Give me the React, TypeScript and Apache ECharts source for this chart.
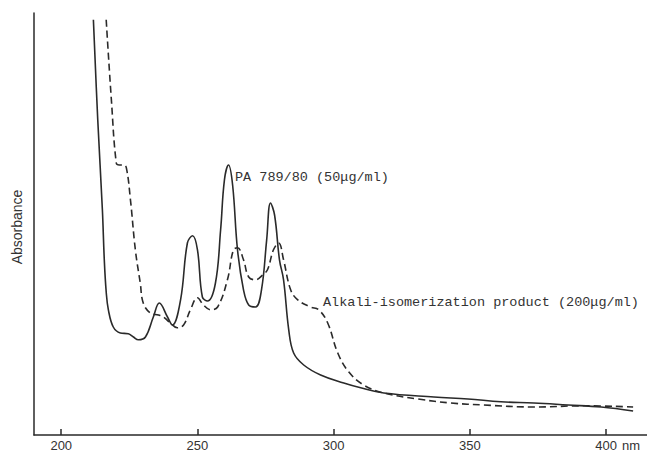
import React, { useEffect, useRef } from "react";
import * as echarts from "echarts";

const xTicks = [200, 250, 300, 350, 400];

const solidNm = [211.8, 213.4, 215.1, 215.8, 216.5, 217.3, 219.1, 221.7, 224.6, 226.5, 228.3, 230.9, 233.8, 236.0, 239.0, 240.8, 243.8, 246.3, 248.2, 250.0, 251.8, 253.7, 256.6, 258.5, 259.9, 261.4, 262.9, 264.7, 266.9, 268.8, 271.3, 273.5, 275.4, 276.8, 278.3, 280.1, 281.6, 283.5, 285.3, 289.0, 295.2, 303.7, 309.9, 318.4, 336.8, 349.3, 361.4, 373.5, 386.0, 398.2, 409.9];
const solidAbs = [1.038, 0.788, 0.563, 0.438, 0.358, 0.313, 0.27, 0.255, 0.253, 0.245, 0.238, 0.245, 0.295, 0.33, 0.295, 0.275, 0.338, 0.48, 0.498, 0.463, 0.345, 0.335, 0.38, 0.513, 0.638, 0.675, 0.625, 0.463, 0.363, 0.325, 0.32, 0.363, 0.488, 0.58, 0.55, 0.438, 0.388, 0.263, 0.205, 0.175, 0.15, 0.13, 0.118, 0.105, 0.095, 0.09, 0.083, 0.08, 0.075, 0.07, 0.06];

const dashNm = [216.5, 218.4, 220.2, 221.3, 222.8, 223.9, 225.4, 227.2, 229.0, 230.1, 232.7, 235.7, 237.5, 240.1, 242.6, 244.9, 247.4, 250.0, 252.2, 254.8, 257.4, 261.0, 263.2, 264.7, 266.9, 268.8, 271.3, 273.9, 275.7, 277.9, 279.8, 281.6, 284.2, 286.8, 291.5, 294.5, 297.8, 301.5, 305.5, 311.0, 318.4, 330.9, 343.0, 355.1, 373.5, 391.9, 409.9];
const dashAbs = [1.038, 0.838, 0.68, 0.675, 0.675, 0.668, 0.588, 0.463, 0.38, 0.33, 0.305, 0.3, 0.295, 0.28, 0.268, 0.275, 0.313, 0.343, 0.325, 0.313, 0.32, 0.388, 0.463, 0.468, 0.438, 0.395, 0.388, 0.4, 0.413, 0.463, 0.48, 0.438, 0.363, 0.338, 0.32, 0.313, 0.28, 0.205, 0.158, 0.125, 0.105, 0.09, 0.08, 0.075, 0.07, 0.073, 0.07];

const solidLabel = "PA 789/80 (50\u03bcg/ml)";
const dashLabel = "Alkali-isomerization product (200\u03bcg/ml)";
const yTitle = "Absorbance";
const unitLabel = "nm";

export default function App() {
  const ref = useRef<HTMLDivElement>(null);
  useEffect(() => {
    if (!ref.current) return;
    const chart = echarts.init(ref.current, undefined, { renderer: "svg" });
    const ink = "#2a2a2a";
    const mono = "'Liberation Mono', 'DejaVu Sans Mono', monospace";
    const sans = "'Liberation Sans', Arial, sans-serif";
    chart.setOption({
      animation: false,
      backgroundColor: "#ffffff",
      grid: { left: 34, top: 13, right: 0, bottom: 18, containLabel: false },
      xAxis: {
        type: "value",
        min: 190,
        max: 415,
        axisLine: { show: true, onZero: false, lineStyle: { color: ink, width: 1.5 } },
        axisTick: { show: true, inside: true, length: 6, customValues: xTicks, lineStyle: { color: ink, width: 1.5 } },
        axisLabel: {
          color: "#333",
          fontSize: 13,
          fontFamily: sans,
          margin: 4,
          customValues: xTicks,
        },
        splitLine: { show: false },
      },
      yAxis: {
        type: "value",
        min: 0,
        max: 1.055,
        axisLine: { show: true, lineStyle: { color: ink, width: 1.5 } },
        axisTick: { show: false },
        axisLabel: { show: false },
        splitLine: { show: false },
      },
      series: [
        {
          type: "line",
          data: solidNm.map((x, i) => [x, solidAbs[i]]),
          showSymbol: false,
          smooth: 0.4,
          lineStyle: { color: ink, width: 1.6, type: "solid" },
        },
        {
          type: "line",
          data: dashNm.map((x, i) => [x, dashAbs[i]]),
          showSymbol: false,
          smooth: 0.4,
          lineStyle: { color: ink, width: 1.6, type: [7, 4] },
        },
      ],
      graphic: [
        {
          type: "text",
          x: 17,
          y: 227,
          rotation: Math.PI / 2,
          style: {
            text: yTitle,
            fill: "#333",
            fontSize: 14,
            fontFamily: sans,
            align: "center",
            verticalAlign: "middle",
          },
        },
        {
          type: "text",
          x: 622,
          y: 445,
          style: {
            text: unitLabel,
            fill: "#333",
            fontSize: 13,
            fontFamily: sans,
            align: "left",
            verticalAlign: "middle",
          },
        },
        {
          type: "text",
          x: 235,
          y: 177,
          style: {
            text: solidLabel,
            fill: "#333",
            fontSize: 13.5,
            fontFamily: mono,
            align: "left",
            verticalAlign: "middle",
          },
        },
        {
          type: "text",
          x: 323,
          y: 302,
          style: {
            text: dashLabel,
            fill: "#333",
            fontSize: 13.5,
            fontFamily: mono,
            align: "left",
            verticalAlign: "middle",
          },
        },
      ],
    });
    return () => chart.dispose();
  }, []);
  return <div ref={ref} style={{ width: 647, height: 453, position: "absolute", left: 0, top: 0 }} />;
}
